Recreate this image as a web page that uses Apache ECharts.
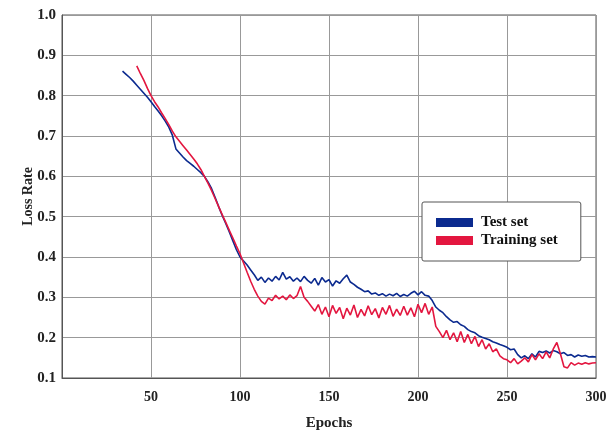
<!DOCTYPE html>
<html>
<head>
<meta charset="utf-8">
<script src="https://cdn.jsdelivr.net/npm/echarts@6/dist/echarts.min.js"></script>
<style>
  html, body { margin: 0; padding: 0; background: #fff; }
  #chart { width: 611px; height: 436px; }
</style>
</head>
<body>
<div id="chart"></div>
<script>
// x axis ticks
const xTicks = [50, 100, 150, 200, 250, 300];

// test set, sampled every 2 epochs starting at epoch 34
const testStart = 34;
const testLoss = [
  0.861, 0.853, 0.845, 0.836, 0.826, 0.816, 0.806, 0.796, 0.785, 0.773,
  0.762, 0.750, 0.737, 0.722, 0.702, 0.668, 0.658, 0.648, 0.639, 0.632,
  0.625, 0.617, 0.609, 0.600, 0.586, 0.570, 0.548, 0.525, 0.503, 0.483,
  0.462, 0.440, 0.418, 0.400, 0.390, 0.380, 0.368, 0.356, 0.342, 0.350,
  0.337, 0.348, 0.340, 0.352, 0.343, 0.362, 0.345, 0.351, 0.340, 0.348,
  0.339, 0.352, 0.342, 0.335, 0.347, 0.330, 0.349, 0.338, 0.344, 0.328,
  0.341, 0.335, 0.346, 0.355, 0.338, 0.332, 0.325, 0.320, 0.314, 0.316,
  0.308, 0.311, 0.305, 0.309, 0.303, 0.308, 0.304, 0.310, 0.302, 0.307,
  0.303, 0.310, 0.315, 0.306, 0.314, 0.305, 0.303, 0.292, 0.276, 0.268,
  0.262, 0.252, 0.244, 0.238, 0.240, 0.232, 0.228, 0.220, 0.215, 0.212,
  0.205, 0.201, 0.198, 0.195, 0.190, 0.187, 0.183, 0.180, 0.176, 0.170,
  0.172, 0.158, 0.150, 0.155, 0.148, 0.160, 0.152, 0.166, 0.163, 0.167,
  0.162, 0.168, 0.165, 0.160, 0.163, 0.156, 0.158, 0.152, 0.157, 0.154,
  0.156, 0.152, 0.153, 0.152
];

// training set, sampled every 2 epochs starting at epoch 42
const trainStart = 42;
const trainLoss = [
  0.874, 0.855, 0.838, 0.818, 0.800, 0.785, 0.772, 0.757, 0.743, 0.728,
  0.712, 0.698, 0.687, 0.676, 0.665, 0.654, 0.643, 0.631, 0.617, 0.600,
  0.583, 0.565, 0.545, 0.525, 0.505, 0.486, 0.466, 0.447, 0.427, 0.408,
  0.385, 0.362, 0.340, 0.320, 0.303, 0.290, 0.283, 0.298, 0.292, 0.305,
  0.296, 0.303, 0.294, 0.306, 0.297, 0.304, 0.327, 0.300, 0.290, 0.278,
  0.266, 0.282, 0.258, 0.276, 0.252, 0.280, 0.260, 0.275, 0.247, 0.273,
  0.256, 0.281, 0.250, 0.270, 0.254, 0.279, 0.257, 0.272, 0.249, 0.275,
  0.258, 0.280, 0.253, 0.271, 0.255, 0.278, 0.256, 0.274, 0.252, 0.283,
  0.262, 0.285, 0.258, 0.276, 0.228, 0.215, 0.200, 0.218, 0.195, 0.212,
  0.190, 0.215, 0.188, 0.208, 0.185, 0.203, 0.178, 0.195, 0.172, 0.185,
  0.165, 0.172, 0.155, 0.148, 0.145, 0.138, 0.148, 0.135, 0.142, 0.150,
  0.140, 0.158, 0.145, 0.160, 0.148, 0.165, 0.150, 0.172, 0.188, 0.160,
  0.128, 0.125, 0.138, 0.132, 0.137, 0.134, 0.138, 0.135, 0.137, 0.138
];

const serif = "'Liberation Serif', 'DejaVu Serif', serif";

function pairs(start, values) {
  return values.map((v, i) => [start + i * 2, v]);
}

const chart = echarts.init(document.getElementById("chart"));
chart.setOption({
  animation: false,
  grid: {
    left: 62,
    right: 15,
    top: 15,
    bottom: 54,
    show: true,
    borderColor: "#555",
    borderWidth: 1
  },
  legend: {
    orient: "vertical",
    left: 422,
    top: 202,
    padding: [13, 23, 13, 14],
    itemGap: 3,
    itemWidth: 37,
    itemHeight: 9,
    backgroundColor: "#fff",
    borderColor: "#555",
    borderWidth: 1,
    borderRadius: 2,
    icon: "rect",
    textStyle: {
      fontFamily: serif,
      fontWeight: "bold",
      fontSize: 15,
      color: "#111",
      padding: [0, 0, 0, 3]
    },
    data: ["Test set", "Training set"]
  },
  xAxis: {
    type: "value",
    min: 0,
    max: 300,
    interval: 50,
    name: "Epochs",
    nameLocation: "middle",
    nameGap: 38,
    nameMoveOverlap: false,
    nameTextStyle: { fontFamily: serif, fontWeight: "bold", fontSize: 15, color: "#222" },
    axisLine: { lineStyle: { color: "#555" } },
    axisTick: { show: false },
    axisLabel: {
      margin: 12,
      fontFamily: serif,
      fontWeight: "bold",
      fontSize: 14,
      color: "#222",
      formatter: v => (xTicks.indexOf(v) >= 0 ? String(v) : "")
    },
    splitLine: { show: true, lineStyle: { color: "#999", width: 1 } }
  },
  yAxis: {
    type: "value",
    min: 0.1,
    max: 1.0,
    interval: 0.1,
    name: "Loss Rate",
    nameLocation: "middle",
    nameGap: 27,
    nameMoveOverlap: false,
    nameTextStyle: { fontFamily: serif, fontWeight: "bold", fontSize: 14, color: "#222" },
    axisLine: { show: true, lineStyle: { color: "#555" } },
    axisTick: { show: false },
    axisLabel: {
      margin: 6,
      fontFamily: serif,
      fontWeight: "bold",
      fontSize: 15,
      color: "#222",
      formatter: v => v.toFixed(1)
    },
    splitLine: { show: true, lineStyle: { color: "#999", width: 1 } }
  },
  series: [
    {
      name: "Test set",
      type: "line",
      showSymbol: false,
      color: "#0b2a8f",
      lineStyle: { color: "#0b2a8f", width: 1.6 },
      data: pairs(testStart, testLoss)
    },
    {
      name: "Training set",
      type: "line",
      showSymbol: false,
      color: "#e3163f",
      lineStyle: { color: "#e3163f", width: 1.6 },
      data: pairs(trainStart, trainLoss)
    }
  ]
});
</script>
</body>
</html>
